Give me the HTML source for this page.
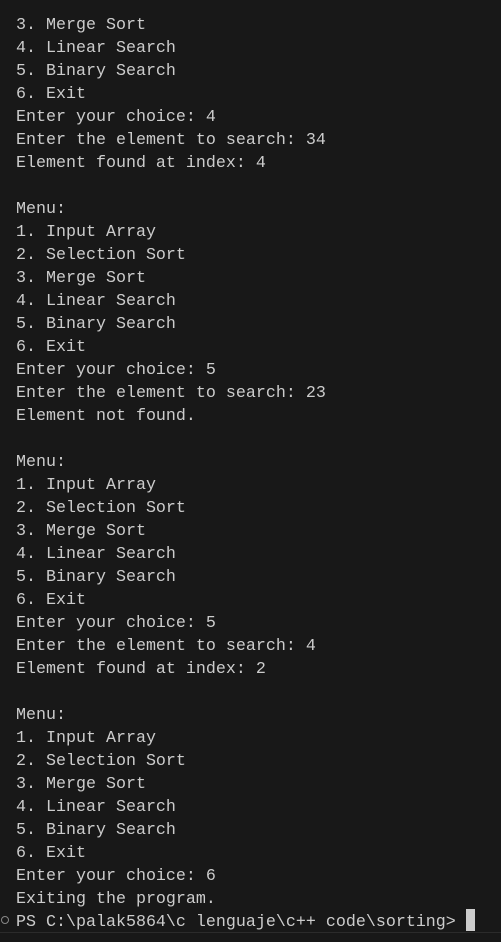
<!DOCTYPE html><html><head><style>
html,body{margin:0;padding:0;background:#181818;width:501px;height:942px;overflow:hidden}
pre{position:absolute;left:16px;top:14px;margin:0;font-family:"Liberation Mono",monospace;font-size:16.67px;line-height:23px;color:#cccccc}
.cur{position:absolute;left:466px;top:909px;width:9px;height:22px;background:#cccccc}
.dot{position:absolute;left:1px;top:916px;width:6px;height:6px;border:1px solid #888;border-radius:50%}
.sep{position:absolute;left:0;top:932px;width:501px;height:1px;background:#2b2b2b}
</style></head><body>
<pre>3. Merge Sort
4. Linear Search
5. Binary Search
6. Exit
Enter your choice: 4
Enter the element to search: 34
Element found at index: 4

Menu:
1. Input Array
2. Selection Sort
3. Merge Sort
4. Linear Search
5. Binary Search
6. Exit
Enter your choice: 5
Enter the element to search: 23
Element not found.

Menu:
1. Input Array
2. Selection Sort
3. Merge Sort
4. Linear Search
5. Binary Search
6. Exit
Enter your choice: 5
Enter the element to search: 4
Element found at index: 2

Menu:
1. Input Array
2. Selection Sort
3. Merge Sort
4. Linear Search
5. Binary Search
6. Exit
Enter your choice: 6
Exiting the program.
PS C:\palak5864\c lenguaje\c++ code\sorting&gt;</pre>
<div class="dot"></div><div class="cur"></div><div class="sep"></div>
</body></html>
